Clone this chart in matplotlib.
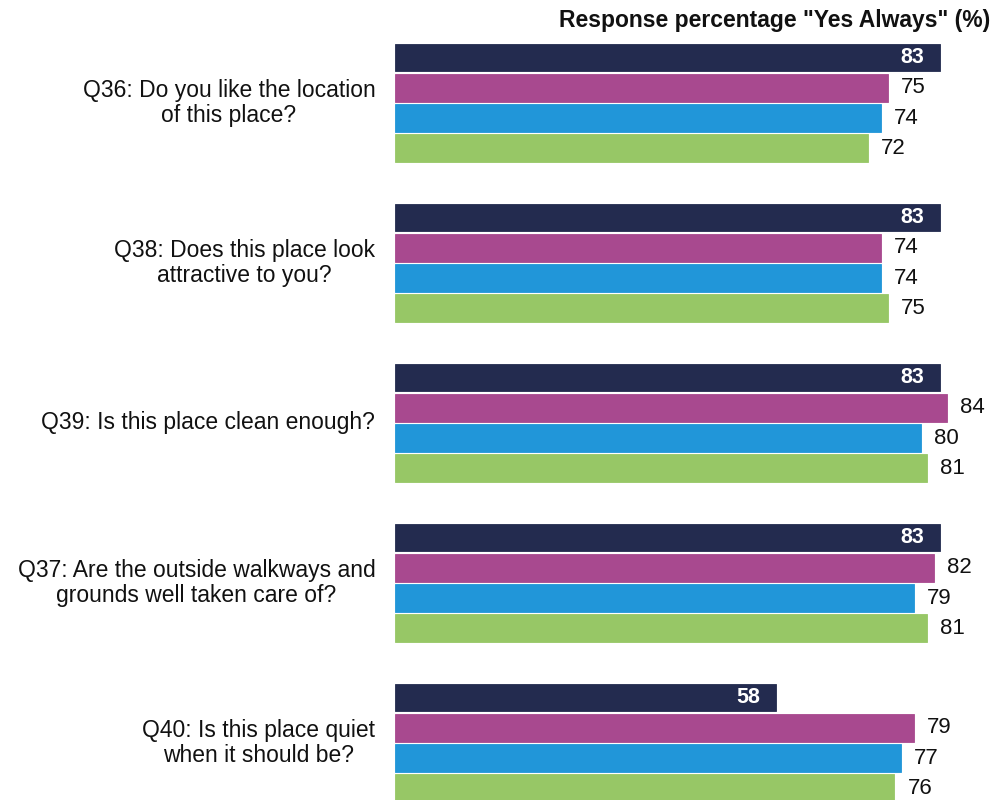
import matplotlib.pyplot as plt

plt.rcParams['font.family'] = ['Liberation Sans', 'DejaVu Sans']

questions = [
    "Q36: Do you like the location\nof this place?",
    "Q38: Does this place look\nattractive to you?",
    "Q39: Is this place clean enough?",
    "Q37: Are the outside walkways and\ngrounds well taken care of?",
    "Q40: Is this place quiet\nwhen it should be?",
]
# four series per question, top to bottom
navy = [83, 83, 83, 83, 58]
magenta = [75, 74, 84, 82, 79]
blue = [74, 74, 80, 79, 77]
green = [72, 75, 81, 81, 76]

series = [navy, magenta, blue, green]
colors = ['#232b4f', '#a8498f', '#2196d9', '#97c766']

fig = plt.figure(figsize=(9.95, 8), dpi=100)
ax = fig.add_axes([395 / 995, 0, 600 / 995, 1])

group_step = 160 / 30.3  # vertical distance between question groups, in bar slots
bar_h = 0.92

for j, (vals, col) in enumerate(zip(series, colors)):
    ys = [g * group_step + j for g in range(len(vals))]
    ax.barh(ys, vals, height=bar_h, color=col, edgecolor=col, linewidth=0.6)
    for y, v in zip(ys, vals):
        if j == 0:
            ax.text(v - 2.4, y, str(v), ha='right', va='center',
                    color='white', fontsize=15.5, fontweight='bold')
        else:
            ax.text(v + 2.0, y, str(v), ha='left', va='center',
                    color='#111111', fontsize=16)

# question labels to the left of each group
for g, q in enumerate(questions):
    ax.text(-3.0, g * group_step + 1.5, q, ha='right', va='center',
            multialignment='center', fontsize=16.5, color='#111111',
            linespacing=1.15, clip_on=False)

ax.set_xlim(0, 600 / 6.57)
top = 57.5 / 30.3
ax.set_ylim(800 / 30.3 - top, -top)
ax.axis('off')

fig.text(990 / 995, 1 - 21 / 800, 'Response percentage "Yes Always" (%)',
         ha='right', va='center', fontsize=16.5, fontweight='bold', color='#111111')

fig.savefig('out.png', dpi=100, facecolor='white')
